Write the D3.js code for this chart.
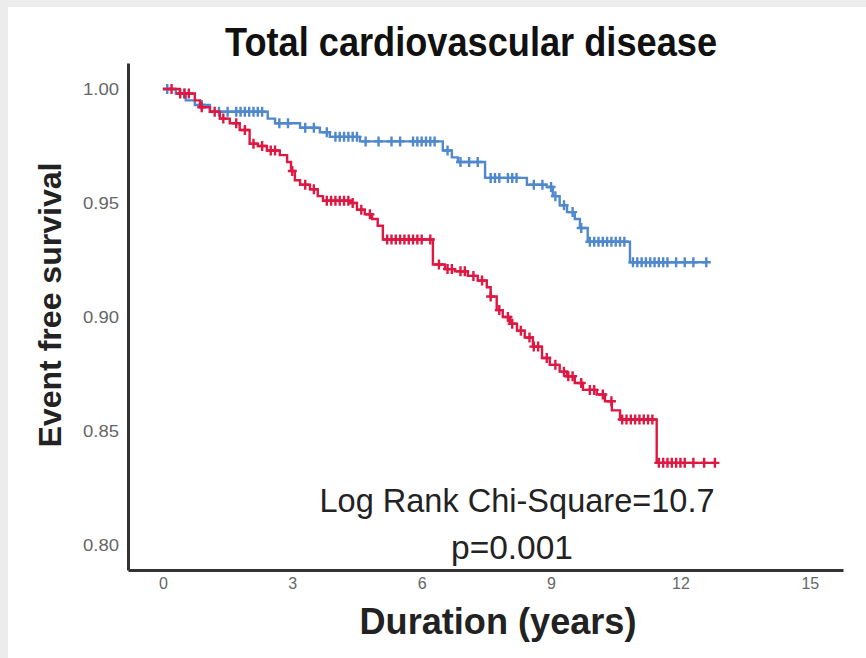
<!DOCTYPE html>
<html>
<head>
<meta charset="utf-8">
<script src="https://cdn.jsdelivr.net/npm/d3@7"></script>
<style>
  body { margin: 0; background: #fff; }
  text { font-family: "Liberation Sans Narrow", "Liberation Sans", Arial, sans-serif; }
</style>
</head>
<body>
<svg width="866" height="658"></svg>
<script>
// step times (years) and survival level after each step
const blueTimes = [0, 0.30, 0.53, 0.74, 1.09, 2.43, 2.60, 3.18, 3.64, 3.87, 4.57, 6.49, 6.70, 6.84, 7.47, 8.44, 8.90, 9.04, 9.20, 9.37, 9.55, 9.67, 9.85, 10.83, 12.61]
const blueSurv  = [1, 0.998, 0.995, 0.993, 0.990, 0.987, 0.985, 0.983, 0.981, 0.979, 0.977, 0.973, 0.970, 0.968, 0.961, 0.958, 0.957, 0.953, 0.949, 0.946, 0.943, 0.939, 0.933, 0.924, 0.924]
const blueCens  = [0.1, 0.5, 0.9, 1.3, 1.5, 1.7, 1.8, 1.9, 2.0, 2.1, 2.2, 2.3, 2.7, 2.9, 3.3, 3.5, 3.8, 4.0, 4.1, 4.2, 4.3, 4.4, 4.5, 4.7, 5.0, 5.3, 5.5, 5.8, 5.9, 6.0, 6.1, 6.2, 6.3, 6.6, 6.9, 7.1, 7.3, 7.6, 7.7, 7.8, 8.0, 8.1, 8.2, 8.6, 8.8, 9.0, 9.1, 9.3, 9.5, 9.7, 9.9, 10.0, 10.1, 10.2, 10.3, 10.4, 10.5, 10.6, 10.7, 10.9, 11.0, 11.1, 11.2, 11.3, 11.4, 11.5, 11.6, 11.7, 11.9, 12.1, 12.3, 12.6]

const redTimes = [0, 0.39, 0.74, 0.86, 1.09, 1.32, 1.55, 1.78, 2.01, 2.20, 2.41, 2.71, 2.88, 2.97, 3.06, 3.18, 3.41, 3.59, 3.71, 4.34, 4.50, 4.68, 4.85, 4.98, 5.10, 6.26, 6.54, 6.77, 7.07, 7.30, 7.51, 7.60, 7.74, 7.88, 8.05, 8.21, 8.39, 8.58, 8.79, 8.97, 9.20, 9.37, 9.55, 9.74, 10.06, 10.25, 10.41, 10.60, 11.45, 12.80]
const redSurv  = [1, 0.998, 0.995, 0.992, 0.990, 0.987, 0.985, 0.982, 0.976, 0.975, 0.973, 0.971, 0.968, 0.964, 0.960, 0.958, 0.956, 0.953, 0.951, 0.950, 0.947, 0.945, 0.943, 0.940, 0.934, 0.923, 0.921, 0.920, 0.918, 0.916, 0.913, 0.909, 0.903, 0.900, 0.897, 0.894, 0.891, 0.887, 0.882, 0.879, 0.876, 0.874, 0.871, 0.868, 0.866, 0.863, 0.859, 0.855, 0.836, 0.836]
const redCens  = [0.2, 0.4, 0.5, 0.6, 0.9, 1.2, 1.4, 1.7, 1.9, 2.1, 2.3, 2.5, 2.6, 3.0, 3.3, 3.5, 3.8, 3.9, 4.0, 4.1, 4.2, 4.3, 4.4, 4.6, 4.8, 5.2, 5.3, 5.4, 5.5, 5.6, 5.7, 5.8, 5.9, 6.0, 6.2, 6.4, 6.6, 6.7, 6.9, 7.0, 7.2, 7.4, 7.6, 7.8, 8.0, 8.1, 8.3, 8.5, 8.6, 8.7, 8.9, 9.1, 9.3, 9.4, 9.5, 9.7, 9.9, 10.0, 10.2, 10.4, 10.65, 10.75, 10.85, 10.95, 11.05, 11.15, 11.25, 11.35, 11.5, 11.6, 11.7, 11.8, 11.9, 12.0, 12.1, 12.3, 12.55, 12.8]

const xTicks = [0, 3, 6, 9, 12, 15]
const yTicks = [0.80, 0.85, 0.90, 0.95, 1.00]

const svg = d3.select("svg")

// light frame strip seen on the top and left edges
svg.append("rect").attr("width", 866).attr("height", 658).attr("fill", "#ececec")
svg.append("rect").attr("x", 8).attr("y", 7).attr("width", 858).attr("height", 651).attr("fill", "#fff")

const x = d3.scaleLinear().domain([-0.81, 15.77]).range([128, 843])
const y = d3.scaleLinear().domain([0.789, 1.0114]).range([570, 63])

const yAxis = d3.axisLeft(y).tickValues(yTicks).tickFormat(d3.format(".2f")).tickSize(0).tickPadding(9)
const yG = svg.append("g").attr("transform", "translate(128,0)").call(yAxis)
const xAxis = d3.axisBottom(x).tickValues(xTicks).tickSize(0).tickPadding(8)
const xG = svg.append("g").attr("transform", "translate(0,570)").call(xAxis)

;[yG, xG].forEach(g => {
  g.select(".domain").attr("stroke", "#333").attr("stroke-width", 3)
  g.selectAll("text").attr("fill", "#666").attr("font-size", 16)
    .attr("font-family", "'Liberation Sans Narrow', 'Liberation Sans', Arial, sans-serif")
})
yG.selectAll("text").attr("textLength", 36).attr("lengthAdjust", "spacingAndGlyphs")

function survAt(times, surv, t){
  let s = surv[0]
  times.forEach((v,i) => { if (v <= t) s = surv[i] })
  return s
}

const line = d3.line().x(d => x(d[0])).y(d => y(d[1])).curve(d3.curveStepAfter)

function drawCurve(times, surv, cens, color){
  const pts = times.map((t,i) => [t, surv[i]])
  svg.append("path").datum(pts).attr("d", line)
    .attr("fill", "none").attr("stroke", color).attr("stroke-width", 2.4)
  svg.append("g").selectAll("path").data(cens).join("path")
    .attr("transform", d => `translate(${x(d)},${y(survAt(times, surv, d))})`)
    .attr("d", "M-4.5,0H4.5M0,-5V5")
    .attr("stroke", color).attr("stroke-width", 2.4).attr("fill", "none")
}

drawCurve(blueTimes, blueSurv, blueCens, "#5088cd")
drawCurve(redTimes, redSurv, redCens, "#dc1843")

// texts
svg.append("text").attr("x", 471).attr("y", 56).attr("text-anchor", "middle")
  .attr("font-size", 40).attr("font-weight", "bold").attr("fill", "#111")
  .attr("textLength", 492).attr("lengthAdjust", "spacingAndGlyphs")
  .text("Total cardiovascular disease")

svg.append("text").attr("transform", "translate(61,305) rotate(-90)").attr("text-anchor", "middle")
  .attr("font-size", 31).attr("font-weight", "bold").attr("fill", "#222")
  .attr("textLength", 285).attr("lengthAdjust", "spacingAndGlyphs")
  .text("Event free survival")

svg.append("text").attr("x", 498).attr("y", 634).attr("text-anchor", "middle")
  .attr("font-size", 36).attr("font-weight", "bold").attr("fill", "#222")
  .attr("textLength", 277).attr("lengthAdjust", "spacingAndGlyphs")
  .text("Duration (years)")

svg.append("text").attr("x", 517).attr("y", 512).attr("text-anchor", "middle")
  .attr("font-size", 34).attr("fill", "#222")
  .attr("textLength", 395).attr("lengthAdjust", "spacingAndGlyphs")
  .text("Log Rank Chi-Square=10.7")

svg.append("text").attr("x", 512).attr("y", 559).attr("text-anchor", "middle")
  .attr("font-size", 34).attr("fill", "#222")
  .attr("textLength", 122).attr("lengthAdjust", "spacingAndGlyphs")
  .text("p=0.001")
</script>
</body>
</html>
